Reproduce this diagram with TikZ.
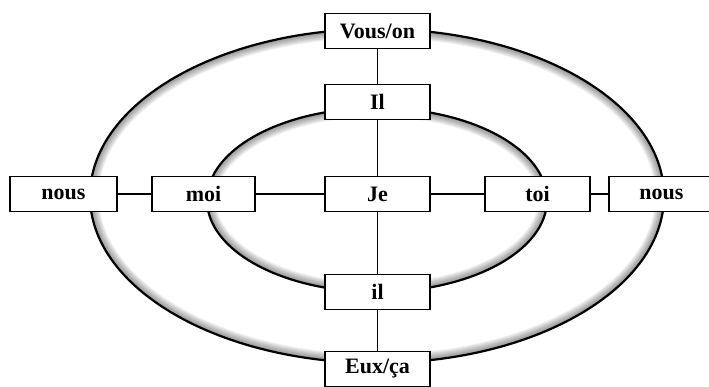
\documentclass[tikz,border=0pt]{standalone}
\usepackage{fontspec}
\setmainfont{Liberation Serif}

\begin{document}
\begin{tikzpicture}[x=1pt,y=1pt,
	pronoun/.style={draw, line width=1.6pt, fill=white, minimum width=105pt, minimum height=35pt, inner sep=0pt, font=\fontsize{22}{26}\selectfont\bfseries},
	link/.style={line width=1.5pt}]
				\useasboundingbox (0,0) rectangle (709,387);
				
				% soft shadow inside the two rings
				\begin{scope}
				\clip (377,191) ellipse [x radius=287, y radius=167];
				\foreach \w in {2,4,...,18}
					\draw[black, opacity=0.055, line width=\w pt] (377,191) ellipse [x radius=287, y radius=167];
				\end{scope}
				\begin{scope}
				\clip (377,187) ellipse [x radius=170, y radius=92];
				\foreach \w in {2,4,...,18}
					\draw[black, opacity=0.055, line width=\w pt] (377,187) ellipse [x radius=170, y radius=92];
				\end{scope}
				
				\draw[line width=2.2pt] (377,191) ellipse [x radius=287, y radius=167];
				\draw[line width=2.2pt] (377,187) ellipse [x radius=170, y radius=92];
				
				\node[pronoun] (vouson) at (377.5,356) {Vous/on};
				\node[pronoun] (Il) at (377.5,285) {Il};
				\node[pronoun] (je) at (377.5,193) {Je};
				\node[pronoun] (il) at (377.5,95) {il};
				\node[pronoun] (euxca) at (377.5,18) {Eux/ça};
				
				\node[pronoun, minimum width=107pt] (nousl) at (63.5,193) {nous};
				\node[pronoun, minimum width=103pt] (moi) at (203.5,193) {moi};
				\node[pronoun] (toi) at (537.5,193) {toi};
				\node[pronoun] (nousr) at (661.5,193) {nous};
				
				\draw[link] (vouson) -- (Il);
				\draw[link] (Il) -- (je);
				\draw[link] (je) -- (il);
				\draw[link] (il) -- (euxca);
				
				\draw[link] (nousl) -- (moi);
				\draw[link] (moi) -- (je);
				\draw[link] (je) -- (toi);
				\draw[link] (toi) -- (nousr);
\end{tikzpicture}
\end{document}
